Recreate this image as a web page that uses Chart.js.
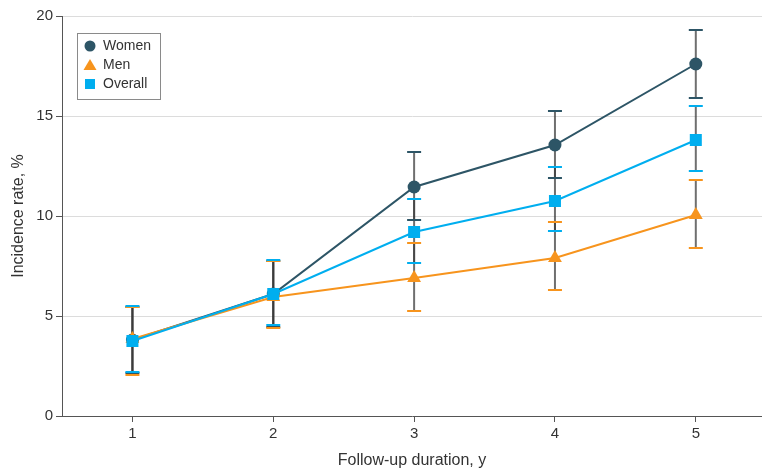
<!DOCTYPE html>
<html>
<head>
<meta charset="utf-8">
<script src="https://cdn.jsdelivr.net/npm/chart.js@4.4.1/dist/chart.umd.min.js"></script>
<style>
  html, body { margin: 0; padding: 0; background: #fff; }
  #wrap { width: 762px; height: 470px; position: relative; }
</style>
</head>
<body>
<div id="wrap"><canvas id="c"></canvas></div>
<script>
const categories = [1, 2, 3, 4, 5];
const yTicks = [0, 5, 10, 15, 20];

const women = [3.8, 6.1, 11.45, 13.55, 17.6];
const womenLow = [2.15, 4.45, 9.8, 11.9, 15.9];
const womenHigh = [5.45, 7.75, 13.2, 15.25, 19.3];

const men = [3.85, 5.95, 6.9, 7.9, 10.05];
const menLow = [2.05, 4.4, 5.25, 6.3, 8.4];
const menHigh = [5.45, 7.75, 8.65, 9.7, 11.8];

const overall = [3.75, 6.1, 9.2, 10.75, 13.8];
const overallLow = [2.2, 4.55, 7.65, 9.25, 12.25];
const overallHigh = [5.5, 7.8, 10.85, 12.45, 15.5];

const seriesNames = ['Women', 'Men', 'Overall'];
const xTitle = 'Follow-up duration, y';
const yTitle = 'Incidence rate, %';

const COL_W = '#2d5566';
const COL_M = '#f7941d';
const COL_O = '#00aeef';
const FONT = "'Liberation Sans', Arial, sans-serif";
const TEXT = '#333333';

const series = [
  { name: seriesNames[0], vals: women, lo: womenLow, hi: womenHigh, color: COL_W, style: 'circle', r: 6.5, order: 3 },
  { name: seriesNames[1], vals: men, lo: menLow, hi: menHigh, color: COL_M, style: 'triangle', r: 8, order: 2 },
  { name: seriesNames[2], vals: overall, lo: overallLow, hi: overallHigh, color: COL_O, style: 'rect', r: 8.5, order: 1 }
];

const errorBars = {
  id: 'errorBars',
  beforeDatasetsDraw(chart) {
    const ctx = chart.ctx, xs = chart.scales.x, ys = chart.scales.y;
    ctx.save();
    series.forEach(s => {
      ctx.strokeStyle = 'rgba(55,55,55,0.72)';
      ctx.lineWidth = 2;
      categories.forEach((c, i) => {
        const x = xs.getPixelForValue(c);
        ctx.beginPath();
        ctx.moveTo(x, ys.getPixelForValue(s.lo[i]));
        ctx.lineTo(x, ys.getPixelForValue(s.hi[i]));
        ctx.stroke();
      });
    });
    series.forEach(s => {
      ctx.strokeStyle = s.color;
      ctx.lineWidth = 2;
      categories.forEach((c, i) => {
        const x = xs.getPixelForValue(c);
        [s.lo[i], s.hi[i]].forEach(v => {
          const y = ys.getPixelForValue(v);
          ctx.beginPath();
          ctx.moveTo(x - 7, y);
          ctx.lineTo(x + 7, y);
          ctx.stroke();
        });
      });
    });
    ctx.restore();
  }
};

const customLegend = {
  id: 'customLegend',
  afterDraw(chart) {
    const ctx = chart.ctx;
    const bx = 77.5, by = 33.5, bw = 83, bh = 66;
    ctx.save();
    ctx.fillStyle = '#fff';
    ctx.fillRect(bx, by, bw, bh);
    ctx.strokeStyle = '#8a8a8a';
    ctx.lineWidth = 1;
    ctx.strokeRect(bx, by, bw, bh);
    const mx = 90, tx = 103;
    series.forEach((s, i) => {
      const y = 46 + i * 19;
      ctx.fillStyle = s.color;
      ctx.beginPath();
      if (s.style === 'circle') {
        ctx.arc(mx, y, 5.5, 0, Math.PI * 2);
      } else if (s.style === 'triangle') {
        ctx.moveTo(mx, y - 6);
        ctx.lineTo(mx + 6.5, y + 5);
        ctx.lineTo(mx - 6.5, y + 5);
        ctx.closePath();
      } else {
        ctx.rect(mx - 5, y - 5, 10, 10);
      }
      ctx.fill();
      ctx.fillStyle = TEXT;
      ctx.font = '14px ' + FONT;
      ctx.textBaseline = 'middle';
      ctx.textAlign = 'left';
      ctx.fillText(s.name, tx, y + 0.5);
    });
    ctx.restore();
  }
};

new Chart(document.getElementById('c'), {
  type: 'line',
  data: {
    datasets: series.map(s => ({
      label: s.name,
      data: categories.map((c, i) => ({ x: c, y: s.vals[i] })),
      borderColor: s.color,
      backgroundColor: s.color,
      borderWidth: 2,
      pointStyle: s.style,
      pointRadius: s.r,
      pointHoverRadius: s.r,
      pointBorderWidth: 0,
      tension: 0,
      order: s.order
    }))
  },
  options: {
    responsive: true,
    maintainAspectRatio: false,
    animation: false,
    events: [],
    layout: { autoPadding: false, padding: { top: 16, right: 0, left: 0, bottom: 0 } },
    plugins: { legend: { display: false }, tooltip: { enabled: false } },
    scales: {
      x: {
        type: 'linear',
        min: 0.5,
        max: 5.47,
        afterBuildTicks: s => { s.ticks = categories.map(v => ({ value: v })); },
        afterFit: s => { s.height = 54; s.paddingLeft = 0; s.paddingRight = 0; },
        grid: { drawOnChartArea: false, drawTicks: true, tickLength: 6, tickColor: '#555', tickWidth: 1 },
        border: { color: '#555', width: 1 },
        ticks: { color: TEXT, font: { family: FONT, size: 15 }, padding: 3, maxRotation: 0,
          callback: v => String(v) },
        title: { display: true, text: xTitle, color: TEXT, font: { family: FONT, size: 16, lineHeight: 1.2 }, padding: { top: 0, bottom: 0 } }
      },
      y: {
        min: 0,
        max: 20,
        afterBuildTicks: s => { s.ticks = yTicks.map(v => ({ value: v })); },
        afterFit: s => { s.width = 62; s.paddingTop = 0; s.paddingBottom = 0; },
        grid: { color: ctx => (ctx.tick && ctx.tick.value === 0) ? 'rgba(0,0,0,0)' : '#dcdcdc', lineWidth: 1, drawTicks: true, tickLength: 6, tickColor: '#555', tickWidth: 1 },
        border: { color: '#555', width: 1 },
        ticks: { color: TEXT, font: { family: FONT, size: 15 }, padding: 3 },
        title: { display: true, text: yTitle, color: TEXT, font: { family: FONT, size: 16, lineHeight: 1.2 }, padding: { top: 9, bottom: 0 } }
      }
    }
  },
  plugins: [errorBars, customLegend]
});
</script>
</body>
</html>
